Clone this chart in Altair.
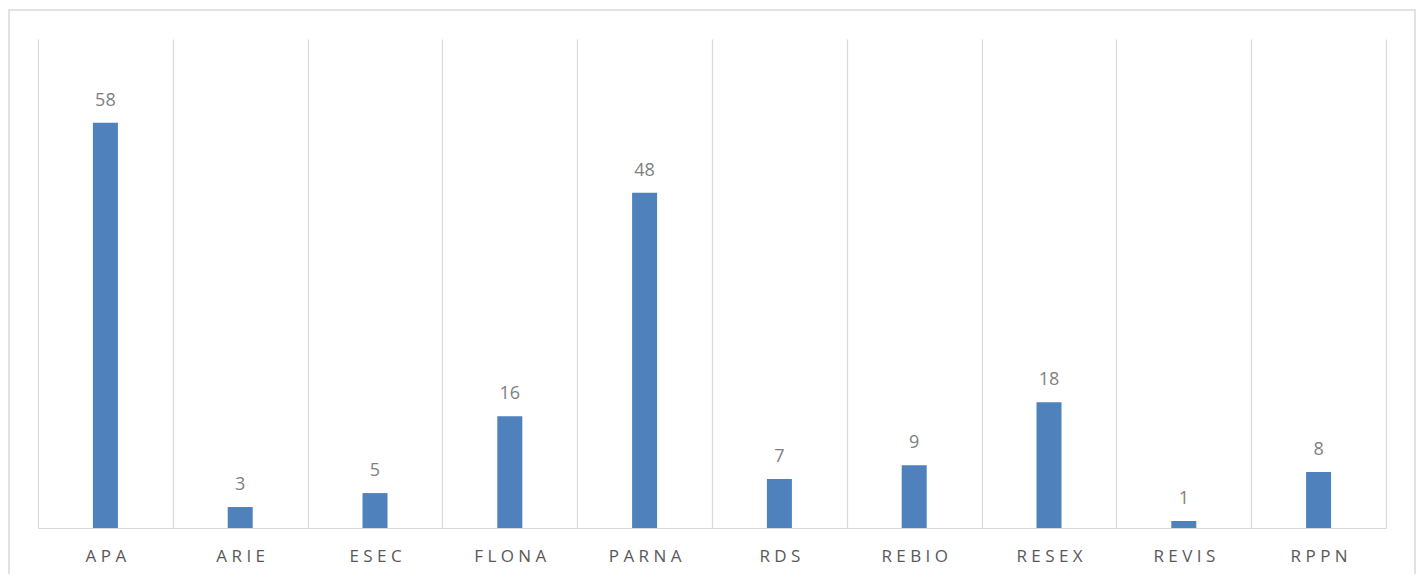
import altair as alt
import pandas as pd

categories = ["APA", "ARIE", "ESEC", "FLONA", "PARNA", "RDS", "REBIO", "RESEX", "REVIS", "RPPN"]
counts = [58, 3, 5, 16, 48, 7, 9, 18, 1, 8]

df = pd.DataFrame({"cat": categories, "n": counts})

W, H = 1348, 489
FONT = "Open Sans"

x = alt.X(
    "cat:N",
    sort=categories,
    scale=alt.Scale(paddingInner=0, paddingOuter=0),
    axis=alt.Axis(
        title=None,
        grid=True,
        gridColor="#d9d9d9",
        gridWidth=1.2,
        tickBand="extent",
        ticks=False,
        tickSize=0,
        domainColor="#d9d9d9",
        domainWidth=1.2,
        labelFont=FONT,
        labelFontSize=17,
        labelColor="#595959",
        labelPadding=20,
        labelAngle=0,
        labelExpr="join(split(datum.label, ''), ' ')",
    ),
)
y = alt.Y("n:Q", scale=alt.Scale(domain=[0, 70], nice=False), axis=None)

bars = alt.Chart(df).mark_bar(color="#4f81bd", size=25).encode(x=x, y=y)
labels = alt.Chart(df).mark_text(
    font=FONT, fontSize=18, color="#7f7f7f", baseline="alphabetic", dy=-17
).encode(x=x, y=y, text="n:Q")

border = alt.Chart(alt.Data(values=[{"a": 1}])).mark_rect(
    fill=None, stroke="#d9d9d9", strokeWidth=1.5
).encode(
    x=alt.value(-29), x2=alt.value(W + 29), y=alt.value(-29), y2=alt.value(H + 80)
)

chart = (
    alt.layer(border, bars, labels)
    .properties(
        width=W,
        height=H,
        autosize=alt.AutoSizeParams(type="none"),
        padding={"left": 30, "top": 31, "right": 32, "bottom": 46},
        background="white",
    )
    .configure_view(stroke=None)
)

chart.save("out.html", embed_options={"renderer": "svg", "actions": False})
